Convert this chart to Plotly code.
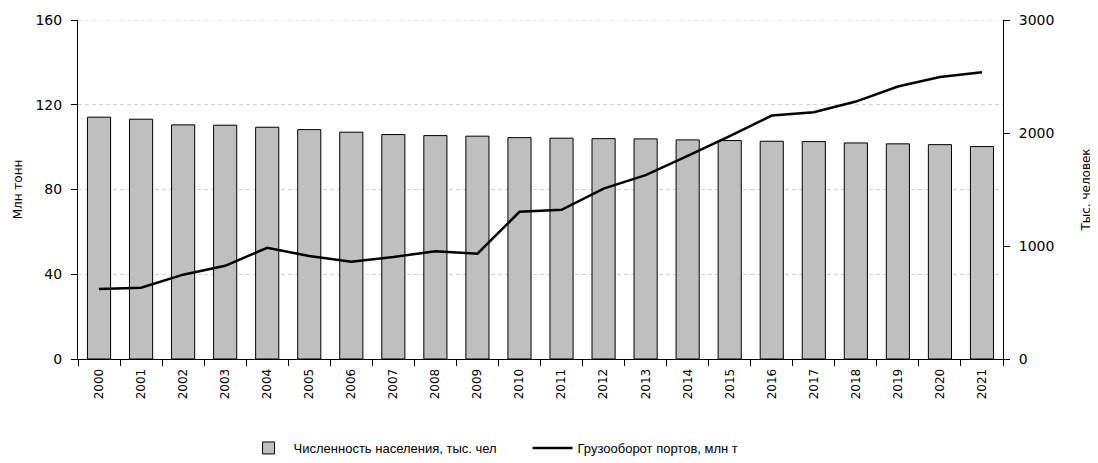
import plotly.graph_objects as go

years = [str(y) for y in range(2000, 2022)]

# population, thousand people (right axis)
population = [2140, 2122, 2072, 2069, 2051, 2030, 2007, 1986, 1977, 1972, 1959,
              1954, 1950, 1948, 1939, 1933, 1927, 1924, 1912, 1904, 1897, 1880]

# port cargo turnover, mln t (left axis)
cargo = [33.0, 33.6, 39.8, 44.0, 52.5, 48.6, 45.9, 48.1, 50.9, 49.7, 69.5,
         70.4, 80.4, 86.8, 95.9, 105.2, 114.9, 116.5, 121.5, 128.6, 133.1, 135.3]

tick_font = dict(family='DejaVu Sans', size=14, color='#000000')
title_font = dict(family='DejaVu Sans', size=12, color='#000000')
grid_color = '#D4D4D4'

fig = go.Figure()

fig.add_trace(go.Bar(
    x=years, y=population, name='Численность населения, тыс. чел',
    marker=dict(color='#BFBFBF', line=dict(color='#000000', width=1)),
    yaxis='y'
))
fig.add_trace(go.Scatter(
    x=years, y=cargo, name='Грузооборот портов, млн т', mode='lines',
    line=dict(color='#000000', width=2.5),
    yaxis='y2'
))

# page body has an 8px margin, so the figure is a bit smaller than the window
fig.update_layout(
    width=1090, height=455,
    margin=dict(l=70, r=95, t=12, b=104),
    paper_bgcolor='white', plot_bgcolor='white',
    bargap=0.45,
    showlegend=True,
    legend=dict(orientation='h', x=0.486, xanchor='center',
                yref='container', y=0.0, yanchor='bottom',
                font=dict(family='Liberation Sans', size=13, color='#000000'),
                itemwidth=40, entrywidth=229),
    xaxis=dict(
        type='category', tickson='boundaries', ticks='outside', ticklen=6,
        tickcolor='#000000', tickangle=-90, ticklabelstandoff=4,
        tickfont=dict(family='DejaVu Sans', size=12, color='#000000'),
        showline=True, linecolor='#000000', linewidth=1, showgrid=False,
        range=[-0.5, 21.5], automargin=False
    ),
    yaxis=dict(
        side='right', range=[0, 3000], dtick=1000, showgrid=False,
        showline=True, linecolor='#000000', linewidth=1,
        ticks='outside', ticklen=6, tickcolor='#000000', tickfont=tick_font,
        ticklabelstandoff=6,
        title=dict(text='Тыс. человек', font=title_font, standoff=28),
        zeroline=False, automargin=False
    ),
    yaxis2=dict(
        side='left', overlaying='y', range=[0, 160], dtick=40,
        showgrid=True, gridcolor=grid_color, griddash='4px,3px', gridwidth=1,
        showline=True, linecolor='#000000', linewidth=1,
        ticks='outside', ticklen=6, tickcolor='#000000', tickfont=tick_font,
        ticklabelstandoff=6,
        title=dict(text='Млн тонн', font=title_font, standoff=10),
        zeroline=False, automargin=False
    ),
    shapes=[dict(type='line', xref='paper', yref='y2', x0=0, x1=1, y0=160, y1=160,
                 line=dict(color=grid_color, width=1, dash='4px,3px'), layer='below')]
)

fig.write_html("out.html")
